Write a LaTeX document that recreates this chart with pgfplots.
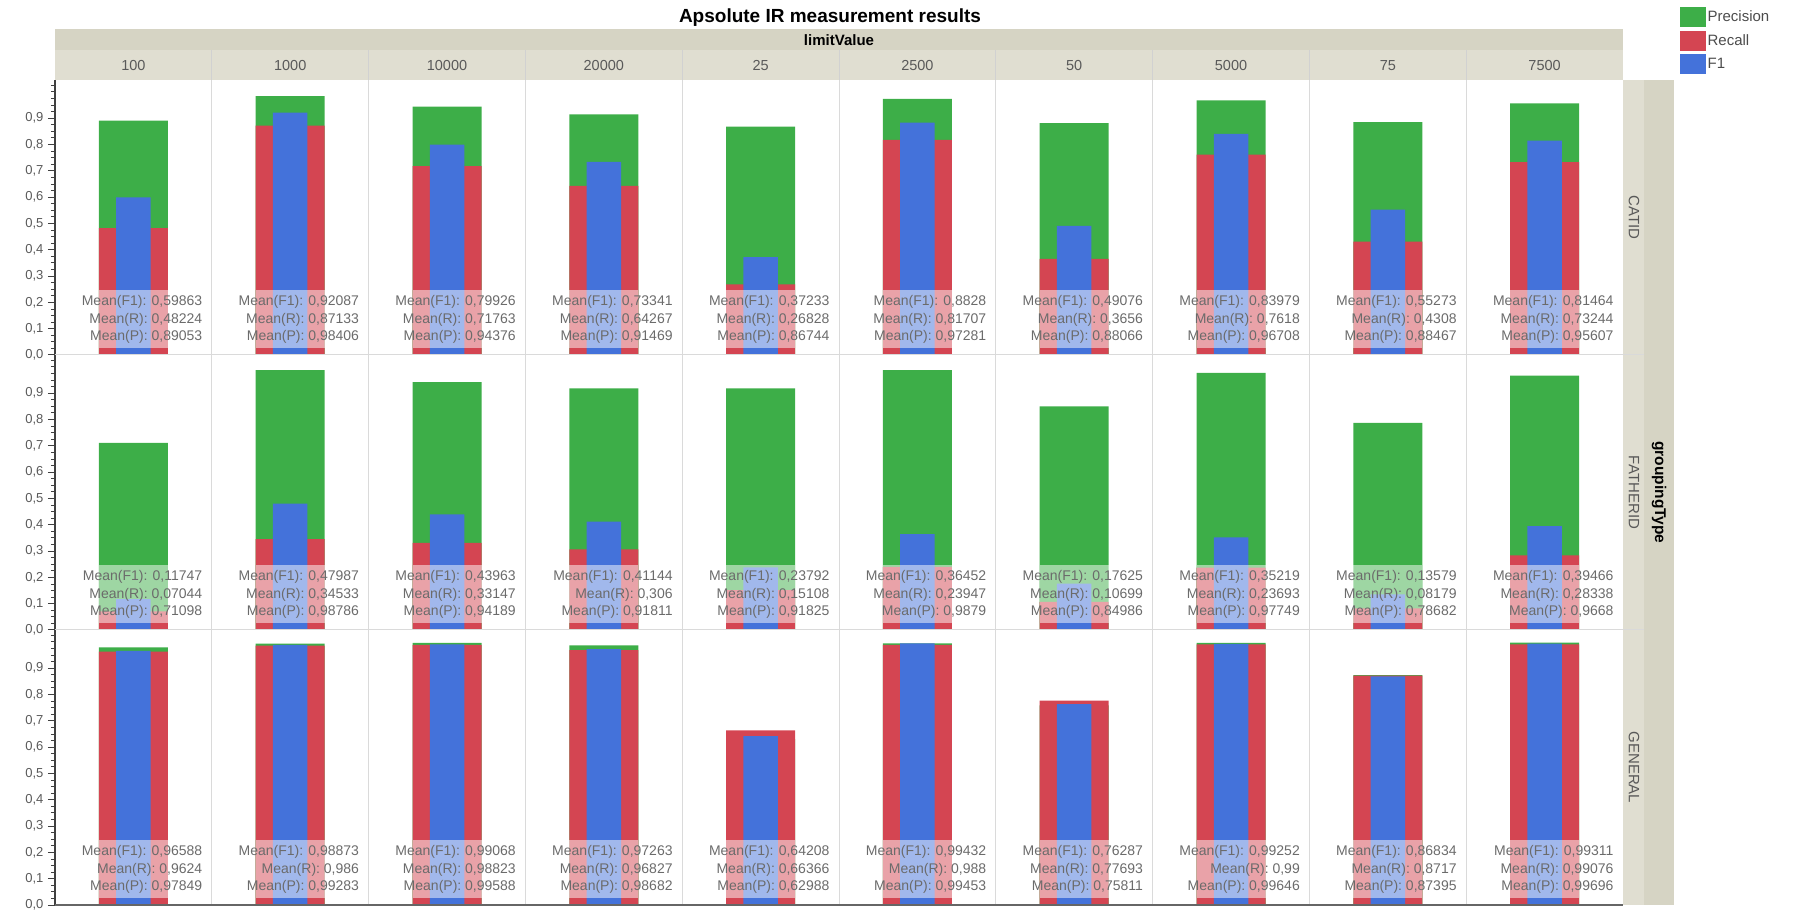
\documentclass[border=0pt]{standalone}
\usepackage{pgfplots}
\pgfplotsset{compat=1.18}
\usepackage{pgfplotstable}
\usepackage{fontspec}
\setmainfont{Liberation Sans}
\definecolor{cP}{HTML}{3DAE48}
\definecolor{cR}{HTML}{D44552}
\definecolor{cF}{HTML}{4472DA}
\definecolor{bandA}{HTML}{D6D4C4}
\definecolor{bandB}{HTML}{E0DED1}
\definecolor{sep}{HTML}{DADADA}

% x = column position; P = precision, R = recall, F = F1
\pgfplotstableread{
x P R F
0.5 0.89053 0.48224 0.59863
1.5 0.98406 0.87133 0.92087
2.5 0.94376 0.71763 0.79926
3.5 0.91469 0.64267 0.73341
4.5 0.86744 0.26828 0.37233
5.5 0.97281 0.81707 0.8828
6.5 0.88066 0.3656 0.49076
7.5 0.96708 0.7618 0.83979
8.5 0.88467 0.4308 0.55273
9.5 0.95607 0.73244 0.81464
}\tabCAT
\pgfplotstableread{
x P R F
0.5 0.71098 0.07044 0.11747
1.5 0.98786 0.34533 0.47987
2.5 0.94189 0.33147 0.43963
3.5 0.91811 0.306 0.41144
4.5 0.91825 0.15108 0.23792
5.5 0.9879 0.23947 0.36452
6.5 0.84986 0.10699 0.17625
7.5 0.97749 0.23693 0.35219
8.5 0.78682 0.08179 0.13579
9.5 0.9668 0.28338 0.39466
}\tabFAT
\pgfplotstableread{
x P R F
0.5 0.97849 0.9624 0.96588
1.5 0.99283 0.986 0.98873
2.5 0.99588 0.98823 0.99068
3.5 0.98682 0.96827 0.97263
4.5 0.62988 0.66366 0.64208
5.5 0.99453 0.988 0.99432
6.5 0.75811 0.77693 0.76287
7.5 0.99646 0.99 0.99252
8.5 0.87395 0.8717 0.86834
9.5 0.99696 0.99076 0.99311
}\tabGEN

\tikzset{lbl/.style={anchor=east, inner sep=0pt, text=black!58, font=\fontsize{14}{15}\selectfont}}
\newcommand{\lab}[4]{%
  \fill[white,fill opacity=0.5] ([xshift=-34.5pt]axis cs:#1,0.025) rectangle ([xshift=34.5pt]axis cs:#1,0.247);
  \node[lbl] at ([xshift=69pt]axis cs:#1,0.2) {Mean(F1): #2};
  \node[lbl] at ([xshift=69pt]axis cs:#1,0.135) {Mean(R): #3};
  \node[lbl] at ([xshift=69pt]axis cs:#1,0.07) {Mean(P): #4};
}
\newcommand{\bars}[1]{%
  \addplot[ybar, bar shift=0pt, bar width=0.44, fill=cP, draw=none] table[x=x,y=P] {#1};
  \addplot[ybar, bar shift=0pt, bar width=0.44, fill=cR, draw=none] table[x=x,y=R] {#1};
  \addplot[ybar, bar shift=0pt, bar width=0.22, fill=cF, draw=none] table[x=x,y=F] {#1};
}

\pgfplotsset{rowax/.style={
  scale only axis, width=1568pt, height=275pt, anchor=south west,
  xmin=0, xmax=10, ymin=0, ymax=1.045,
  axis y line*=left, axis x line=none,
  ytick={0,0.1,0.2,0.3,0.4,0.5,0.6,0.7,0.8,0.9},
  minor ytick={0.025,0.05,...,1.03},
  tick align=outside,
  major tick length=7pt, minor tick length=4pt,
  y axis line style={black!75, line width=1.2pt},
  major tick style={black!75, line width=1pt},
  minor tick style={black!75, line width=0.8pt},
  yticklabel style={font=\fontsize{13}{13}\selectfont, text=black!65, xshift=-1pt},
  /pgf/number format/.cd, fixed, fixed zerofill, precision=1, use comma, assume math mode=true,
  /pgfplots/.cd, clip=false,
}}

\begin{document}
\begin{tikzpicture}
\path[use as bounding box] (0pt,0pt) rectangle (1795pt,915pt);
% title
\node[font=\bfseries\fontsize{19}{19}\selectfont] at (830pt,897pt) {Apsolute IR measurement results};
% header band
\fill[bandA] (55pt,864.5pt) rectangle (1623pt,886.4pt);
\fill[bandB] (55pt,835pt) rectangle (1623pt,864.5pt);
\node[font=\bfseries\fontsize{15}{15}\selectfont] at (839pt,874.5pt) {limitValue};
\foreach \k in {1,...,9} {\draw[black!18, line width=1pt] ({55pt+156.8pt*\k},835pt) -- ({55pt+156.8pt*\k},864.5pt);}
\foreach \lb [count=\i from 0] in {100,1000,10000,20000,25,2500,50,5000,75,7500} {
  \node[font=\fontsize{14.5}{14.5}\selectfont, text=black!65] at ({55pt+156.8pt*(\i+0.5)},849pt) {\lb};
}
% right strip
\fill[bandB] (1623pt,10pt) rectangle (1644pt,835pt);
\fill[bandA] (1644pt,10pt) rectangle (1674pt,835pt);
\draw[black!15, line width=1pt] (1623pt,560pt) -- (1644pt,560pt);
\draw[black!15, line width=1pt] (1623pt,285pt) -- (1644pt,285pt);
\node[rotate=-90, font=\fontsize{15}{15}\selectfont, text=black!65] at (1634pt,697.5pt) {CATID};
\node[rotate=-90, font=\fontsize{15}{15}\selectfont, text=black!65] at (1634pt,422.5pt) {FATHERID};
\node[rotate=-90, font=\fontsize{15}{15}\selectfont, text=black!65] at (1634pt,147.5pt) {GENERAL};
\node[rotate=-90, font=\bfseries\fontsize{15.5}{15.5}\selectfont] at (1659pt,422.5pt) {groupingType};

% ---------- row 1: CATID ----------
\begin{axis}[rowax, at={(55pt,560pt)},
  legend cell align=left,
  legend style={at={(1.036,1.265)}, anchor=north west, draw=none, fill=none,
    font=\fontsize{15}{15}\selectfont, inner sep=0pt, row sep=3.5pt,
    text=black!70, nodes={inner sep=2pt}},
  legend image code/.code={\fill[#1] (0pt,-10pt) rectangle (26pt,10pt);}]
\bars{\tabCAT}
\legend{Precision,Recall,F1}
\pgfplotsinvokeforeach{1,...,9}{\draw[sep, line width=1pt] (axis cs:#1,0) -- (axis cs:#1,1.045);}
\draw[sep, line width=1pt] (axis cs:0,0) -- (axis cs:10,0);
\lab{0.5}{0,59863}{0,48224}{0,89053}
\lab{1.5}{0,92087}{0,87133}{0,98406}
\lab{2.5}{0,79926}{0,71763}{0,94376}
\lab{3.5}{0,73341}{0,64267}{0,91469}
\lab{4.5}{0,37233}{0,26828}{0,86744}
\lab{5.5}{0,8828}{0,81707}{0,97281}
\lab{6.5}{0,49076}{0,3656}{0,88066}
\lab{7.5}{0,83979}{0,7618}{0,96708}
\lab{8.5}{0,55273}{0,4308}{0,88467}
\lab{9.5}{0,81464}{0,73244}{0,95607}
\end{axis}

% ---------- row 2: FATHERID ----------
\begin{axis}[rowax, at={(55pt,285pt)}]
\bars{\tabFAT}
\pgfplotsinvokeforeach{1,...,9}{\draw[sep, line width=1pt] (axis cs:#1,0) -- (axis cs:#1,1.045);}
\draw[sep, line width=1pt] (axis cs:0,0) -- (axis cs:10,0);
\lab{0.5}{0,11747}{0,07044}{0,71098}
\lab{1.5}{0,47987}{0,34533}{0,98786}
\lab{2.5}{0,43963}{0,33147}{0,94189}
\lab{3.5}{0,41144}{0,306}{0,91811}
\lab{4.5}{0,23792}{0,15108}{0,91825}
\lab{5.5}{0,36452}{0,23947}{0,9879}
\lab{6.5}{0,17625}{0,10699}{0,84986}
\lab{7.5}{0,35219}{0,23693}{0,97749}
\lab{8.5}{0,13579}{0,08179}{0,78682}
\lab{9.5}{0,39466}{0,28338}{0,9668}
\end{axis}

% ---------- row 3: GENERAL ----------
\begin{axis}[rowax, at={(55pt,10pt)}]
\bars{\tabGEN}
\pgfplotsinvokeforeach{1,...,9}{\draw[sep, line width=1pt] (axis cs:#1,0) -- (axis cs:#1,1.045);}
\draw[black!60, line width=1.2pt] (axis cs:0,0) -- (axis cs:10,0);
\lab{0.5}{0,96588}{0,9624}{0,97849}
\lab{1.5}{0,98873}{0,986}{0,99283}
\lab{2.5}{0,99068}{0,98823}{0,99588}
\lab{3.5}{0,97263}{0,96827}{0,98682}
\lab{4.5}{0,64208}{0,66366}{0,62988}
\lab{5.5}{0,99432}{0,988}{0,99453}
\lab{6.5}{0,76287}{0,77693}{0,75811}
\lab{7.5}{0,99252}{0,99}{0,99646}
\lab{8.5}{0,86834}{0,8717}{0,87395}
\lab{9.5}{0,99311}{0,99076}{0,99696}
\end{axis}
\end{tikzpicture}
\end{document}
